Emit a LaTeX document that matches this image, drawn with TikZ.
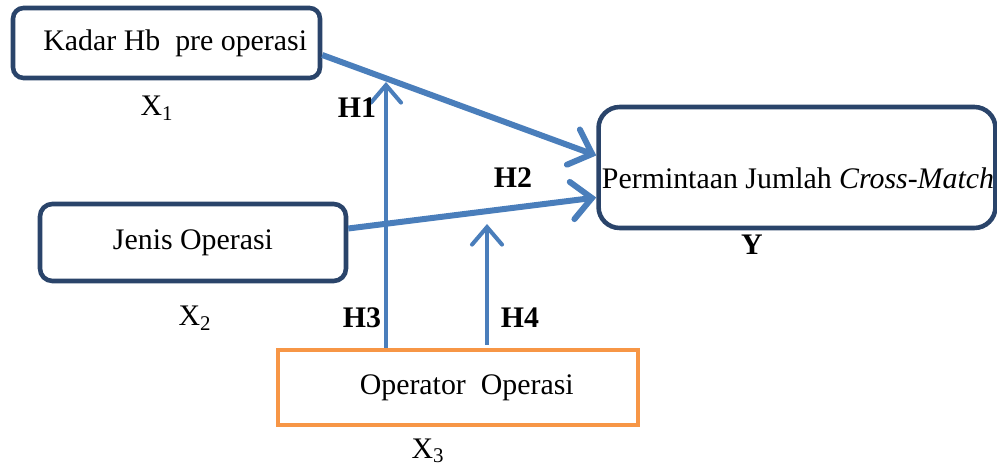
\documentclass[tikz,border=0pt]{standalone}
\usepackage{fontspec}
\setmainfont{Liberation Serif}
\usetikzlibrary{arrows.meta,calc}
\definecolor{boxnavy}{RGB}{42,68,106}
\definecolor{arrowblue}{RGB}{74,126,187}
\definecolor{opsorange}{RGB}{247,150,70}

\begin{document}
\begin{tikzpicture}[x=0.02cm,y=-0.02cm]
\tikzstyle{every node}+=[font=\fontsize{17}{20}\selectfont]
\tikzstyle{varbox}=[draw=boxnavy, line width=2.6pt, rounded corners=6pt, inner sep=0pt]
\tikzstyle{modbox}=[draw=opsorange, line width=2.6pt, inner sep=0pt]
\tikzstyle{mainarrow}=[draw=arrowblue, line width=3.4pt, -{Straight Barb[length=4mm,width=7.5mm,line cap=round]}]
\tikzstyle{hyparrow}=[draw=arrowblue, line width=2.3pt, -{Straight Barb[length=3.5mm,width=6mm,line cap=round]}]
\tikzstyle{hlabel}=[font=\fontsize{17}{20}\selectfont\bfseries]

\useasboundingbox (0,0) rectangle (997,469);

\node [varbox, minimum width=6.14cm, minimum height=1.4cm] (kadar) at (166.5,43) {\hspace*{0.35cm}Kadar Hb\ \ pre operasi};
\node (x1) at (157,108) {X\textsubscript{1}};

\node [varbox, rounded corners=7pt, minimum width=6.12cm, minimum height=1.54cm] (jenis) at (193,242.5) {Jenis Operasi};
\node (x2) at (195,318) {X\textsubscript{2}};

\node [varbox, rounded corners=12pt, minimum width=7.94cm, minimum height=2.42cm] (cm) at (797,167.5) {};
\node (cmtext) at (798,178) {Permintaan Jumlah \textit{Cross-Match}};
\node [hlabel] (y) at (752,245) {Y};

\node [modbox, minimum width=7.2cm, minimum height=1.5cm] (operator) at (458,387.5) {\hspace*{0.35cm}Operator\ \ Operasi};
\node (x3) at (428,451) {X\textsubscript{3}};

\coordinate (h1end) at (386,82);
\coordinate (h4end) at (487,224);

\draw [mainarrow] ($(kadar.east)+(0,12)$) -- ($(cm.west)+(0,-12)$);
\draw [mainarrow] ($(jenis.east)+(0,-14)$) -- ($(cm.west)+(0,30)$);
\draw [hyparrow] ($(operator.north)+(-72,0)$) -- (h1end);
\draw [hyparrow] ($(operator.north)+(29,-3)$) -- (h4end);

\node [hlabel] (h1) at (357,108) {H1};
\node [hlabel] (h2) at (513,178) {H2};
\node [hlabel] (h3) at (362,318) {H3};
\node [hlabel] (h4) at (520,318) {H4};
\end{tikzpicture}
\end{document}
